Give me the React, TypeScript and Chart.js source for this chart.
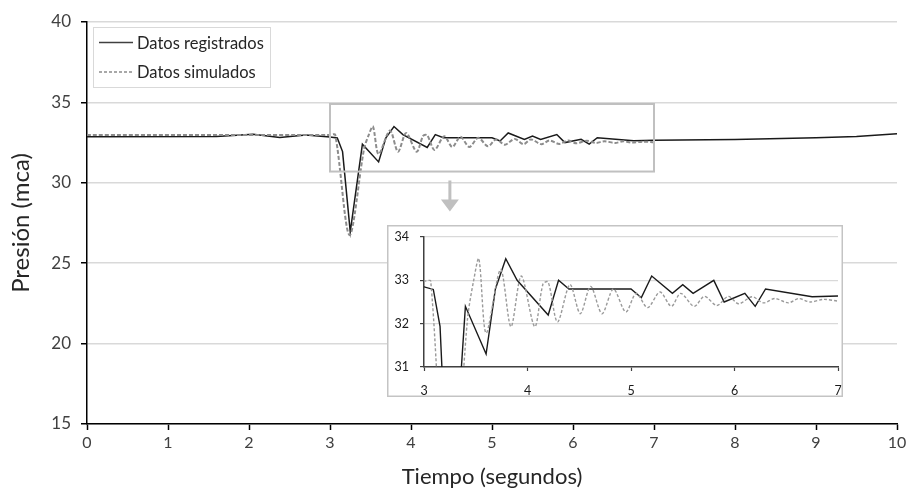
import React, { useEffect, useRef } from "react";
import { Chart, registerables } from "chart.js";

Chart.register(...registerables);

// ---- data ----
const tiempoRegistrados = [0, 1.6, 2.05, 2.38, 2.7, 3.0, 3.09, 3.155, 3.25, 3.4, 3.6, 3.69, 3.79, 3.9, 4.2, 4.3, 4.4, 5.0, 5.1, 5.2, 5.4, 5.5, 5.6, 5.8, 5.9, 6.1, 6.2, 6.3, 6.75, 7.0, 8.0, 9.0, 9.5, 10.0];
const presionRegistrados = [32.87, 32.88, 33.02, 32.82, 32.97, 32.85, 32.79, 31.94, 26.95, 32.4, 31.3, 32.8, 33.5, 33.0, 32.2, 33.0, 32.8, 32.8, 32.6, 33.1, 32.7, 32.9, 32.7, 33.0, 32.5, 32.7, 32.4, 32.8, 32.62, 32.64, 32.7, 32.8, 32.88, 33.05];

const tiempoSimulados = [0, 3.0, 3.065, 3.24, 3.42, 3.48, 3.53, 3.6, 3.74, 3.84, 3.94, 4.07, 4.15, 4.2, 4.29, 4.41, 4.51, 4.61, 4.72, 4.83, 4.95, 5.05, 5.16, 5.28, 5.39, 5.48, 5.61, 5.71, 5.83, 5.94, 6.04, 6.17, 6.28, 6.39, 6.52, 6.62, 6.73, 6.86, 7.0];
const presionSimulados = [32.97, 32.98, 32.98, 26.75, 32.1, 33.0, 33.5, 31.78, 33.25, 31.93, 33.1, 31.93, 32.92, 32.96, 32.04, 32.9, 32.23, 32.86, 32.23, 32.8, 32.27, 32.7, 32.37, 32.73, 32.4, 32.7, 32.4, 32.63, 32.42, 32.63, 32.46, 32.62, 32.48, 32.58, 32.48, 32.58, 32.5, 32.56, 32.52];

const etiquetas = ["Datos registrados", "Datos simulados"];

const mainX = [0, 10];
const mainY = [15, 40];
const zoomX = [3, 7];
const zoomY = [30.7, 34.9];
const insetY = [31, 34];
const arrowX = 4.48;
const arrowY = 30.15;

const FONT = "Lato, 'Open Sans', sans-serif";

const toPoints = (xs: number[], ys: number[]) => xs.map((x, i) => ({ x, y: ys[i] }));

const makeDatasets = (insetMode: boolean) => [
  {
    label: etiquetas[0],
    data: toPoints(tiempoRegistrados, presionRegistrados),
    borderColor: "#1a1a1a",
    borderWidth: insetMode ? 1.4 : 1.5,
    pointRadius: 0,
    tension: 0,
    fill: false,
    order: 1,
  },
  {
    label: etiquetas[1],
    data: toPoints(tiempoSimulados, presionSimulados),
    borderColor: insetMode ? "#9a9a9a" : "#8c8c8c",
    borderWidth: insetMode ? 1.4 : 2,
    borderDash: insetMode ? [3, 2] : [4, 2],
    pointRadius: 0,
    tension: 0.3,
    fill: false,
    order: 0,
  },
];

const legendPlugin = {
  id: "boxLegend",
  afterDraw(chart: any) {
    const { ctx, chartArea } = chart;
    const x0 = chartArea.left + 6;
    const y0 = chartArea.top + 5;
    const w = 177;
    const h = 60;
    ctx.save();
    ctx.fillStyle = "#ffffff";
    ctx.fillRect(x0, y0, w, h);
    ctx.strokeStyle = "#d9d9d9";
    ctx.lineWidth = 1;
    ctx.strokeRect(x0 + 0.5, y0 + 0.5, w, h);
    chart.data.datasets.forEach((ds: any, i: number) => {
      const cy = y0 + 15.5 + i * 29.5;
      ctx.strokeStyle = i === 0 ? "#404040" : "#8c8c8c";
      ctx.lineWidth = 1.5;
      ctx.setLineDash(ds.borderDash ? [3, 2] : []);
      ctx.beginPath();
      ctx.moveTo(x0 + 6, cy);
      ctx.lineTo(x0 + 40, cy);
      ctx.stroke();
      ctx.setLineDash([]);
      ctx.fillStyle = "#262626";
      ctx.font = `16.5px ${FONT}`;
      ctx.textBaseline = "middle";
      ctx.textAlign = "left";
      ctx.fillText(ds.label, x0 + 44, cy + 1);
    });
    ctx.restore();
  },
};

const zoomBoxPlugin = {
  id: "zoomBox",
  afterDatasetsDraw(chart: any) {
    const { ctx } = chart;
    const xs = chart.scales.x;
    const ys = chart.scales.y;
    const l = xs.getPixelForValue(zoomX[0]);
    const r = xs.getPixelForValue(zoomX[1]);
    const t = ys.getPixelForValue(zoomY[1]);
    const b = ys.getPixelForValue(zoomY[0]);
    ctx.save();
    ctx.strokeStyle = "#c0c0c0";
    ctx.lineWidth = 2;
    ctx.strokeRect(l, t, r - l, b - t);
    // arrow
    const ax = xs.getPixelForValue(arrowX);
    const ay = ys.getPixelForValue(arrowY);
    ctx.fillStyle = "#c0c0c0";
    ctx.beginPath();
    ctx.moveTo(ax - 1.5, ay);
    ctx.lineTo(ax + 1.5, ay);
    ctx.lineTo(ax + 1.5, ay + 19);
    ctx.lineTo(ax + 9, ay + 19);
    ctx.lineTo(ax, ay + 31);
    ctx.lineTo(ax - 9, ay + 19);
    ctx.lineTo(ax - 1.5, ay + 19);
    ctx.closePath();
    ctx.fill();
    ctx.restore();
  },
};

const insetFramePlugin = {
  id: "insetFrame",
  beforeDraw(chart: any) {
    const { ctx, width, height } = chart;
    ctx.save();
    ctx.fillStyle = "#ffffff";
    ctx.fillRect(0, 0, width, height);
    ctx.restore();
  },
  afterDraw(chart: any) {
    const { ctx, width, height } = chart;
    ctx.save();
    ctx.strokeStyle = "#c4c4c4";
    ctx.lineWidth = 1.5;
    ctx.strokeRect(0.75, 0.75, width - 1.5, height - 1.5);
    ctx.restore();
  },
};

export default function App() {
  const mainRef = useRef<HTMLCanvasElement>(null);
  const insetRef = useRef<HTMLCanvasElement>(null);

  useEffect(() => {
    const main = new Chart(mainRef.current as HTMLCanvasElement, {
      type: "line",
      data: { datasets: makeDatasets(false) as any },
      options: {
        responsive: false,
        maintainAspectRatio: false,
        animation: false,
        events: [],
        layout: { padding: { left: 0, top: 22, right: 15, bottom: 0 } },
        plugins: { legend: { display: false }, tooltip: { enabled: false } },
        scales: {
          x: {
            type: "linear",
            min: mainX[0],
            max: mainX[1],
            afterFit: (s: any) => {
              s.height = 65;
              s.paddingLeft = 0;
              s.paddingRight = 0;
            },
            ticks: { stepSize: 1, color: "#404040", font: { family: FONT, size: 16 }, padding: 3, maxRotation: 0 },
            grid: { drawOnChartArea: false, drawTicks: true, tickLength: 6, tickColor: "#000", tickWidth: 1.5 },
            border: { display: true, color: "#000", width: 1.5 },
            title: { display: true, text: "Tiempo (segundos)", color: "#262626", font: { family: FONT, size: 22 }, padding: { top: 0, bottom: -1 } },
          },
          y: {
            type: "linear",
            min: mainY[0],
            max: mainY[1],
            afterFit: (s: any) => {
              s.width = 87;
              s.paddingTop = 0;
              s.paddingBottom = 0;
            },
            ticks: { stepSize: 5, color: "#404040", font: { family: FONT, size: 17 }, padding: 10 },
            grid: { color: "#d9d9d9", lineWidth: 1.5, drawTicks: true, tickLength: 6, tickColor: "#000", tickWidth: 1.5 },
            border: { display: true, color: "#000", width: 1.5 },
            title: { display: true, text: "Presión (mca)", color: "#262626", font: { family: FONT, size: 24 }, padding: { top: 7, bottom: 0 } },
          },
        },
      },
      plugins: [zoomBoxPlugin, legendPlugin],
    } as any);

    const inset = new Chart(insetRef.current as HTMLCanvasElement, {
      type: "line",
      data: { datasets: makeDatasets(true) as any },
      options: {
        responsive: false,
        maintainAspectRatio: false,
        animation: false,
        events: [],
        layout: { padding: { left: 0, top: 12, right: 5, bottom: 0 } },
        plugins: { legend: { display: false }, tooltip: { enabled: false } },
        scales: {
          x: {
            type: "linear",
            min: zoomX[0],
            max: zoomX[1],
            afterFit: (s: any) => {
              s.height = 30;
              s.paddingLeft = 0;
              s.paddingRight = 0;
            },
            ticks: { stepSize: 1, color: "#1a1a1a", font: { family: FONT, size: 12.5 }, padding: 12, maxRotation: 0 },
            grid: { drawOnChartArea: false, drawTicks: true, tickLength: 4, tickColor: "#404040", tickWidth: 1.2 },
            border: { display: true, color: "#404040", width: 1.5 },
          },
          y: {
            type: "linear",
            min: insetY[0],
            max: insetY[1],
            afterFit: (s: any) => {
              s.width = 37;
              s.paddingTop = 0;
              s.paddingBottom = 0;
            },
            ticks: { stepSize: 1, color: "#1a1a1a", font: { family: FONT, size: 12.5 }, padding: 11 },
            grid: { color: "#d9d9d9", lineWidth: 1.2, drawTicks: true, tickLength: 4, tickColor: "#404040", tickWidth: 1.2 },
            border: { display: true, color: "#404040", width: 1.5 },
          },
        },
      },
      plugins: [insetFramePlugin],
    } as any);

    return () => {
      main.destroy();
      inset.destroy();
    };
  }, []);

  return (
    <div style={{ position: "absolute", left: 0, top: 0, width: 912, height: 489, background: "#fff" }}>
      <canvas
        ref={mainRef}
        width={912}
        height={489}
        style={{ position: "absolute", left: 0, top: 0, width: 912, height: 489 }}
      />
      <canvas
        ref={insetRef}
        width={456}
        height={172}
        style={{ position: "absolute", left: 387, top: 225, width: 456, height: 172 }}
      />
    </div>
  );
}
